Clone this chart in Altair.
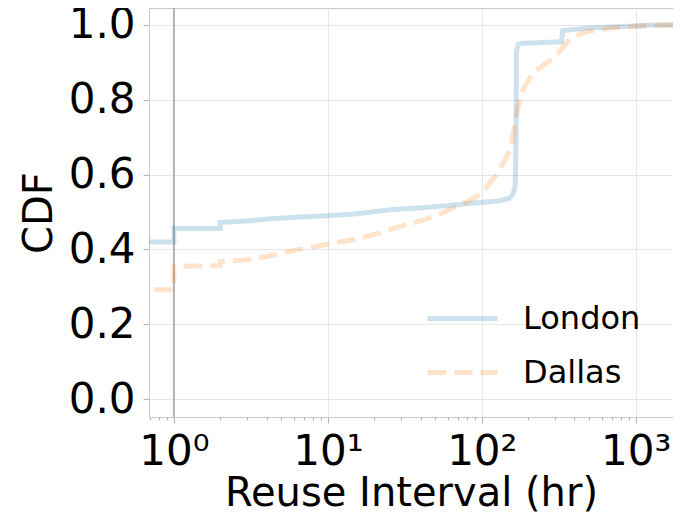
import altair as alt
import pandas as pd

# London CDF (reuse interval in hours, cumulative fraction)
london_x = [0.5, 1, 1, 2, 2, 3, 4, 6, 10, 15, 20, 27, 40, 53, 80, 100, 130, 150, 160, 165, 167, 168, 172, 180, 330, 336, 500, 950, 1300, 2000]
london_y = [0.42, 0.42, 0.456, 0.456, 0.472, 0.476, 0.481, 0.486, 0.490, 0.495, 0.501, 0.507, 0.511, 0.515, 0.522, 0.526, 0.530, 0.536, 0.548, 0.57, 0.70, 0.93, 0.948, 0.951, 0.955, 0.985, 0.992, 0.997, 1.0, 1.0]

# Dallas CDF
dallas_x = [0.5, 1, 1, 2, 2, 3, 4, 6, 10, 15, 20, 27, 40, 53, 80, 100, 124, 140, 155, 168, 181, 215, 276, 321, 360, 392, 479, 713, 1062, 1700, 2000]
dallas_y = [0.292, 0.292, 0.354, 0.357, 0.368, 0.372, 0.381, 0.397, 0.414, 0.427, 0.44, 0.457, 0.476, 0.494, 0.527, 0.55, 0.598, 0.635, 0.675, 0.76, 0.82, 0.872, 0.905, 0.93, 0.955, 0.968, 0.982, 0.993, 0.997, 1.0, 1.0]

series = ["London", "Dallas"]
x_major = [1, 10, 100, 1000]
x_minor = [0.7, 0.8, 0.9, 2, 3, 4, 5, 6, 7, 8, 9, 20, 30, 40, 50, 60, 70, 80, 90,
           200, 300, 400, 500, 600, 700, 800, 900]
y_ticks = [0.0, 0.2, 0.4, 0.6, 0.8, 1.0]

rows = []
for i, (x, y) in enumerate(zip(london_x, london_y)):
    rows.append({"series": "London", "x": x, "y": y, "order": i})
for i, (x, y) in enumerate(zip(dallas_x, dallas_y)):
    rows.append({"series": "Dallas", "x": x, "y": y, "order": i})
df = pd.DataFrame(rows)

FONT = "DejaVu Sans"
xscale = alt.Scale(type="log", domain=[0.689, 1747], nice=False)
yscale = alt.Scale(domain=[-0.0481, 1.04545], nice=False, zero=False)

label_expr = ("datum.value == 1 ? '10⁰' : datum.value == 10 ? '10¹' : "
              "datum.value == 100 ? '10²' : '10³'")

lines = alt.Chart(df).mark_line(strokeWidth=5, strokeOpacity=0.22, clip=True).encode(
    x=alt.X("x:Q", scale=xscale,
            axis=alt.Axis(orient="bottom", values=x_major, labelExpr=label_expr,
                          title="Reuse Interval (hr)",
                          grid=True, gridColor="#e6e6e6", tickSize=6, tickColor="#b0b0b0",
                          labelFontSize=42, titleFontSize=40, labelPadding=8, titlePadding=1,
                          domain=False, labelFont=FONT, titleFont=FONT, labelColor="black",
                          titleColor="black", titleFontWeight="normal")),
    y=alt.Y("y:Q", scale=yscale,
            axis=alt.Axis(values=y_ticks, format=".1f", title="CDF", grid=True,
                          gridColor="#e6e6e6", tickSize=6, tickColor="#b0b0b0",
                          labelFontSize=42, titleFontSize=40, labelPadding=8, titlePadding=9,
                          domain=False, labelFont=FONT, titleFont=FONT, labelColor="black",
                          titleColor="black", titleFontWeight="normal")),
    color=alt.Color("series:N", scale=alt.Scale(domain=series, range=["#1f77b4", "#ff7f0e"]),
                    legend=alt.Legend(title=None, orient="none", legendX=276, legendY=273,
                                      symbolType="stroke", symbolSize=4900, symbolStrokeWidth=5,
                                      symbolOpacity=0.22, labelFontSize=32, labelFont=FONT,
                                      labelColor="black", labelOffset=23, rowPadding=0)),
    strokeDash=alt.StrokeDash("series:N", scale=alt.Scale(domain=series, range=[[1, 0], [18.5, 8]]),
                              legend=None),
    order="order:Q",
    detail="series:N",
)

minor = alt.Chart(pd.DataFrame({"x": x_minor})).mark_tick(opacity=0).encode(
    x=alt.X("x:Q", scale=xscale,
            axis=alt.Axis(orient="bottom", values=x_minor, labels=False, grid=False, tickSize=3,
                          tickColor="#b0b0b0", domain=False, title=None)),
)

vline = alt.Chart(pd.DataFrame({"x": [1]})).mark_rule(color="#a0a0a0", strokeWidth=1.5).encode(
    x=alt.X("x:Q", scale=xscale, axis=None)
)

chart = alt.layer(minor, vline, lines).properties(
    width=524, height=409,
    autosize=alt.AutoSizeParams(type="none"),
    padding={"left": 141, "top": 0, "right": 0, "bottom": 97},
).configure_view(stroke="#c8c8c8", strokeWidth=1).resolve_scale(x="shared").resolve_axis(x="independent")

chart.save("out.html", embed_options={"renderer": "svg", "actions": False})
